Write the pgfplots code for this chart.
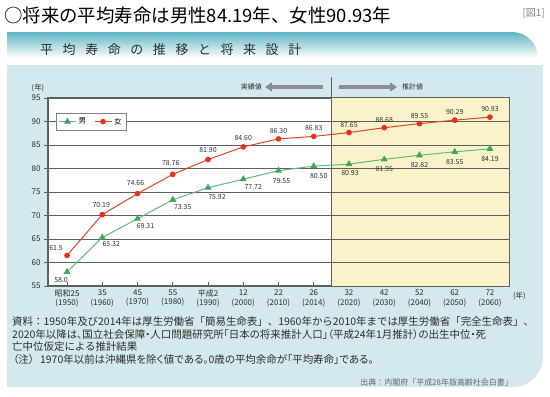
\documentclass[border=0pt]{standalone}
\usepackage{fontspec}
\setmainfont{Noto Sans CJK JP}
\newfontfamily\paltfont[RawFeature=+palt]{Noto Sans CJK JP}
\usepackage{pgfplots}
\pgfplotsset{compat=1.18}
\usepackage{pgfplotstable}
\usetikzlibrary{arrows.meta}

\definecolor{panel}{RGB}{211,233,237}
\definecolor{bandtop}{RGB}{95,182,195}
\definecolor{bandmid}{RGB}{205,235,239}
\definecolor{yellowc}{RGB}{250,243,201}
\definecolor{gridc}{RGB}{95,95,95}
\definecolor{axisc}{RGB}{95,95,95}
\definecolor{redline}{RGB}{218,70,48}
\definecolor{redmark}{RGB}{232,48,30}
\definecolor{greenline}{RGB}{100,184,126}
\definecolor{greenmark}{RGB}{58,168,92}
\definecolor{textc}{RGB}{45,45,45}
\definecolor{arrowc}{RGB}{140,140,150}

\pgfplotstableread{
x y lab dx dy
0 58.0 58.0 -6 -8
1 65.32 65.32 9 -7
2 69.31 69.31 8 -7
3 73.35 73.35 10 -7
4 75.92 75.92 9 -9
5 77.72 77.72 10 -8
6 79.55 79.55 3 -10
7 80.50 80.50 5 -10
8 80.93 80.93 1 -9
9 81.95 81.95 0 -10
10 82.82 82.82 0 -10
11 83.55 83.55 0 -10
12 84.19 84.19 0 -10
}\male

\pgfplotstableread{
x y lab dx dy
0 61.5 61.5 -11 7
1 70.19 70.19 -1 10
2 74.66 74.66 -2 11
3 78.76 78.76 -2 11
4 81.90 81.90 0 10
5 84.60 84.60 0 9
6 86.30 86.30 0 8
7 86.83 86.83 0 8
8 87.65 87.65 0 8
9 88.68 88.68 0 8
10 89.55 89.55 0 8
11 90.29 90.29 0 8
12 90.93 90.93 0 8
}\female

\newcommand{\sk}{\kern9.6bp}

\begin{document}
\begin{tikzpicture}
\path[use as bounding box] (0,0) rectangle (550bp,-397bp);
\fill[white] (0,0) rectangle (550bp,-397bp);
\begin{scope}[x=1bp,y=-1bp]
  % title
  \node[anchor=west, inner sep=0, font=\fontsize{18.5}{20}\selectfont] at (4,16) {○将来の平均寿命は男性84.19年、女性90.93年};
  \node[anchor=east, inner sep=0, text=gray, font=\fontsize{10}{12}\selectfont] at (545,13) {[図1]};
  % header band
  \shade[top color=bandtop, middle color=bandmid, bottom color=white]
    (7,32) -- (512,32) arc[start angle=90, end angle=0, radius=26bp] -- (538,58) -- (7,58) -- cycle;
  \node[anchor=west, inner sep=0, text=textc, font=\fontsize{13}{15}\selectfont] at (40,50)
    {平\sk 均\sk 寿\sk 命\sk の\sk 推\sk 移\sk と\sk 将\sk 来\sk 設\sk 計};
  % panel
  \fill[panel] (7,65) -- (543,65) -- (543,357) arc[start angle=0, end angle=-90, radius=30bp] -- (7,387) -- cycle;
  % arrows
  \draw[arrowc, line width=3.6bp, -{Triangle[width=9bp,length=7bp]}] (323,87) -- (265,87);
  \draw[arrowc, line width=3.6bp, -{Triangle[width=9bp,length=7bp]}] (339,87) -- (397,87);
  \node[anchor=east, inner sep=0, text=textc, font=\fontsize{7}{8}\selectfont] at (262,87) {実績値};
  \node[anchor=west, inner sep=0, text=textc, font=\fontsize{7}{8}\selectfont] at (402,87) {推計値};
  \node[inner sep=0, text=textc, font=\fontsize{7.5}{8}\selectfont] at (38,88) {(年)};
  \node[anchor=west, inner sep=0, text=textc, font=\fontsize{7.5}{8}\selectfont] at (513,296) {(年)};
  % notes
  \begin{scope}[every node/.style={anchor=west, inner sep=0, text=textc, font=\fontsize{10.5}{12}\selectfont}]
    \node at (12,322) {資料：1950年及び2014年は厚生労働省「簡易生命表」、1960年から2010年までは厚生労働省「完全生命表」、};
    \node[font=\paltfont\fontsize{10.5}{12}\selectfont] at (12,334.5) {2020年以降は、国立社会保障・人口問題研究所「日本の将来推計人口」（平成24年1月推計）の出生中位・死};
    \node at (12,347) {亡中位仮定による推計結果};
    \node[font=\paltfont\fontsize{10.5}{12}\selectfont] at (13,359.5) {（注）\kern6bp 1970年以前は沖縄県を除く値である。0歳の平均余命が「平均寿命」である。};
  \end{scope}
  \node[anchor=east, inner sep=0, text=gray!80!black, font=\fontsize{8}{9}\selectfont] at (513,382) {出典：内閣府「平成28年版高齢社会白書」};
\end{scope}

\begin{axis}[
  at={(48bp,-286bp)}, anchor=south west,
  width=461bp, height=188bp, scale only axis,
  clip=false,
  xmin=-0.54, xmax=12.54, ymin=55, ymax=95,
  axis background/.style={fill=white},
  xtick={0,...,12},
  xticklabels={{昭和25\\(1950)},{35\\(1960)},{45\\(1970)},{55\\(1980)},{平成2\\(1990)},{12\\(2000)},{22\\(2010)},{26\\(2014)},{32\\(2020)},{42\\(2030)},{52\\(2040)},{62\\(2050)},{72\\(2060)}},
  ytick={55,60,...,95},
  /pgf/number format/assume math mode=true,
  xtick pos=bottom, ytick pos=left,
  xtick align=inside, ytick align=outside,
  major tick length=4bp,
  tick style={color=axisc, line width=0.9bp},
  axis line style={color=axisc, line width=1.3bp},
  x tick label style={font=\fontsize{8}{9.8}\selectfont, align=center, text=textc},
  y tick label style={font=\fontsize{8}{9}\selectfont, text=textc},
  legend style={at={(0.017,0.92)}, anchor=north west, draw=gray, fill=white,
    font=\fontsize{7.5}{9}\selectfont, inner sep=2.5bp, row sep=0pt,
    /tikz/every even column/.append style={column sep=6bp}},
  legend columns=2,
  legend image post style={line width=1bp},
]
\fill[yellowc] (axis cs:7.5,55) rectangle (axis cs:12.54,95);
\foreach \g in {60,65,...,90} {
  \edef\temp{\noexpand\draw[gridc, line width=0.9bp] (axis cs:-0.54,\g) -- (axis cs:12.54,\g);}
  \temp
}
\draw[axisc, line width=1.2bp] (axis cs:7.5,55) -- (axis cs:7.5,99.5);

\addplot[color=greenline, line width=1bp, mark=triangle*, mark size=3bp,
  mark options={fill=greenmark, draw=greenmark},
  nodes near coords, point meta=explicit symbolic,
  visualization depends on={\thisrow{dx} \as \dx},
  visualization depends on={\thisrow{dy} \as \dy},
  every node near coord/.append style={font=\fontsize{7}{8}\selectfont, text=textc, anchor=center, inner sep=0, xshift=\dx bp, yshift=\dy bp}]
  table[x=x, y=y, meta=lab] {\male};
\addlegendentry{男}

\addplot[color=redline, line width=1bp, mark=*, mark size=2.3bp,
  mark options={fill=redmark, draw=redmark},
  nodes near coords, point meta=explicit symbolic,
  visualization depends on={\thisrow{dx} \as \dx},
  visualization depends on={\thisrow{dy} \as \dy},
  every node near coord/.append style={font=\fontsize{7}{8}\selectfont, text=textc, anchor=center, inner sep=0, xshift=\dx bp, yshift=\dy bp}]
  table[x=x, y=y, meta=lab] {\female};
\addlegendentry{女}
\end{axis}
\end{tikzpicture}
\end{document}
